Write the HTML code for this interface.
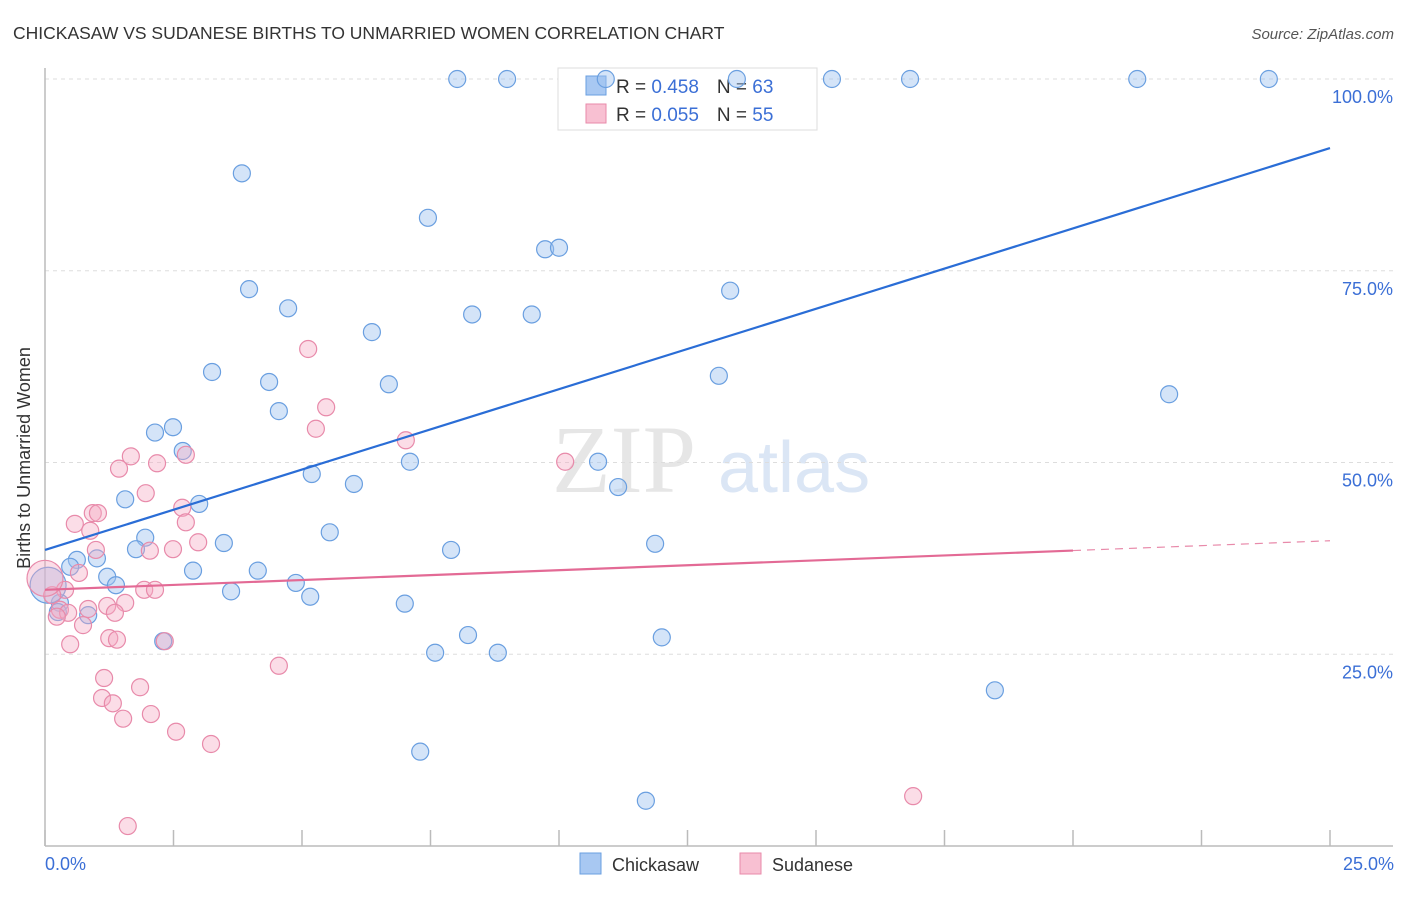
<!DOCTYPE html>
<html><head><meta charset="utf-8"><style>
body{margin:0;background:#fff;font-family:"Liberation Sans",sans-serif}
</style></head><body>
<svg id="chart" width="1406" height="892" xmlns="http://www.w3.org/2000/svg" font-family="Liberation Sans, sans-serif">
<text x="13" y="39" font-size="17.5" fill="#333">CHICKASAW VS SUDANESE BIRTHS TO UNMARRIED WOMEN CORRELATION CHART</text>
<text x="1394" y="39" font-size="15" fill="#555" font-style="italic" text-anchor="end">Source: ZipAtlas.com</text>
<g><text x="552" y="492" font-size="96" font-family="Liberation Serif, serif" fill="#e6e6e6">ZIP</text><text x="718" y="492" font-size="72" fill="#dbe6f5">atlas</text></g>
<g id="grid"></g><g id="axes"></g>
<text x="30" y="458" font-size="18" fill="#333" text-anchor="middle" transform="rotate(-90 30 458)">Births to Unmarried Women</text>
<text x="45" y="870" font-size="18" fill="#3b6fd6">0.0%</text>
<text x="1394" y="870" font-size="18" fill="#3b6fd6" text-anchor="end">25.0%</text>
<g>
<rect x="558" y="68" width="259" height="62" fill="#fff" stroke="#ddd"/>
<rect x="586" y="76" width="20" height="19" fill="#a8c8f2" stroke="#6a9fe0"/>
<text x="616" y="93" font-size="19" fill="#333">R = <tspan fill="#3b6fd6">0.458</tspan><tspan dx="18">N = </tspan><tspan fill="#3b6fd6">63</tspan></text>
<rect x="586" y="104" width="20" height="19" fill="#f8c0d2" stroke="#e88aaa"/>
<text x="616" y="121" font-size="19" fill="#333">R = <tspan fill="#3b6fd6">0.055</tspan><tspan dx="18">N = </tspan><tspan fill="#3b6fd6">55</tspan></text>
</g>
<g id="marks"></g>
<g>
<rect x="580" y="853" width="21" height="21" fill="#a8c8f2" stroke="#6a9fe0"/>
<text x="612" y="871" font-size="18" fill="#333">Chickasaw</text>
<rect x="740" y="853" width="21" height="21" fill="#f8c0d2" stroke="#e88aaa"/>
<text x="772" y="871" font-size="18" fill="#333">Sudanese</text>
</g>
</svg>
<script>
const yTicks=[25,50,75,100];
const yTickLabels=["25.0%","50.0%","75.0%","100.0%"];
const blueX=[8.02,8.99,13.46,15.31,16.83,21.25,23.81,10.91,3.83,7.45,9.73,10.0,3.97,4.73,8.31,9.47,6.36,13.33,3.25,4.36,6.69,13.11,21.87,4.55,2.14,2.49,2.68,7.10,10.76,5.19,6.01,11.15,1.56,3.0,5.54,1.95,3.48,1.77,7.90,11.87,1.01,0.62,0.49,1.21,2.88,4.14,1.38,4.88,3.62,5.16,7.0,0.29,0.84,0.25,2.30,8.23,12.0,7.59,8.81,18.48,7.30,11.69,0.06];
const blueY=[100,100,100,100,100,100,100,100,87.7,81.9,77.8,78.0,72.6,70.1,69.3,69.3,67.0,72.4,61.8,60.5,60.2,61.3,58.9,56.7,53.9,54.6,51.5,50.1,50.1,48.5,47.2,46.8,45.2,44.6,40.9,40.2,39.5,38.7,38.6,39.4,37.5,37.3,36.4,35.1,35.9,35.9,34.0,34.3,33.2,32.5,31.6,31.7,30.1,30.5,26.7,27.5,27.2,25.2,25.2,20.3,12.3,5.9,34.0];
const pinkX=[5.12,5.47,5.27,7.02,10.12,1.67,2.74,2.18,1.44,1.96,2.67,0.93,1.03,0.58,2.74,0.88,2.98,0.99,2.04,2.49,0.66,1.93,2.14,0.39,0.14,0.29,0.45,0.84,1.21,1.56,1.36,0.23,0.74,0.49,1.25,1.40,2.33,4.55,1.15,1.85,1.11,1.32,2.06,1.52,2.55,3.23,16.89,1.61,0.0];
const pinkY=[64.8,57.2,54.4,52.9,50.1,50.8,51.0,49.9,49.2,46.0,44.1,43.4,43.4,42.0,42.2,41.1,39.6,38.6,38.5,38.7,35.6,33.4,33.4,33.4,32.7,30.8,30.4,30.9,31.3,31.7,30.4,29.9,28.8,26.3,27.1,26.9,26.7,23.5,21.9,20.7,19.3,18.6,17.2,16.6,14.9,13.3,6.5,2.6,34.9];
const blueTrend=[38.6,91.0];
const pinkTrend=[33.4,39.8];
const pinkSolidEnd=20;
const NS="http://www.w3.org/2000/svg";
const sx=v=>45+v*(1285/25), sy=v=>846-v*(767/100);
function mk(t,a,p){const e=document.createElementNS(NS,t);for(const k in a)e.setAttribute(k,a[k]);p.appendChild(e);return e;}
const grid=document.getElementById('grid'),axes=document.getElementById('axes'),marks=document.getElementById('marks');
yTicks.forEach((t,i)=>{
 const l=mk('line',{x1:45,x2:1393,y1:sy(t),y2:sy(t),stroke:'#ddd','stroke-dasharray':'4 4'},grid);
 
 
 const tx=mk('text',{x:1393,y:sy(t)+24,'font-size':18,fill:'#3b6fd6','text-anchor':'end'},grid);
 tx.textContent=yTickLabels[i];
 
 
});
const ya=mk('line',{x1:45,x2:45,y1:68,y2:846,stroke:'#bbb','stroke-width':1.5},axes);


const xa=mk('line',{x1:45,x2:1393,y1:846,y2:846,stroke:'#bbb','stroke-width':1.5},axes);


for(let i=0;i<=10;i++){const t=mk('line',{x1:sx(i*2.5),x2:sx(i*2.5),y1:830,y2:846,stroke:'#bbb','stroke-width':1.5},axes);
 
 }
function pts(X,Y,fill,stroke,name){X.forEach((x,i)=>{const big=i===X.length-1&&x<0.1;
 const c=mk('circle',{cx:sx(x),cy:sy(Y[i]),r:big?18:8.5,fill:fill,stroke:stroke,'stroke-width':1.2},marks);
 
 });}
pts(blueX,blueY,'rgba(160,195,240,0.45)','#6a9fe0','chickasaw-point');
pts(pinkX,pinkY,'rgba(245,170,195,0.4)','#e88aaa','sudanese-point');
const bl=mk('line',{x1:sx(0),y1:sy(blueTrend[0]),x2:sx(25),y2:sy(blueTrend[1]),stroke:'#2a6dd6','stroke-width':2.2},marks);


const pm=pinkTrend[0]+(pinkTrend[1]-pinkTrend[0])*pinkSolidEnd/25;
const pl=mk('line',{x1:sx(0),y1:sy(pinkTrend[0]),x2:sx(pinkSolidEnd),y2:sy(pm),stroke:'#e36a95','stroke-width':2.2},marks);


const pd=mk('line',{x1:sx(pinkSolidEnd),y1:sy(pm),x2:sx(25),y2:sy(pinkTrend[1]),stroke:'#e88aaa','stroke-width':1.2,'stroke-dasharray':'8 6'},marks);


</script>
</body></html>
